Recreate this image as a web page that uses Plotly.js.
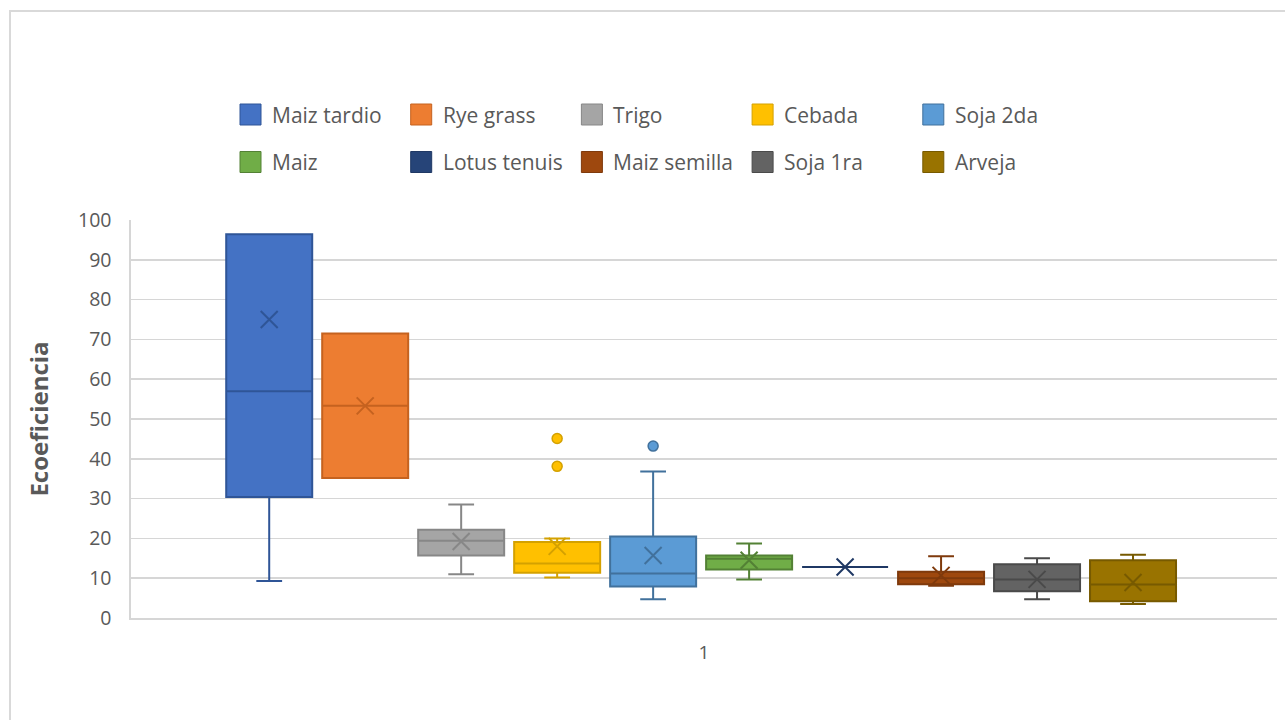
<!DOCTYPE html>
<html>
<head>
<meta charset="utf-8">
<script src="https://cdn.plot.ly/plotly-3.0.1.min.js"></script>
<style>
  html, body { margin: 0; padding: 0; background: #ffffff; overflow: hidden; }
  #chart { position: absolute; left: 0; top: 0; width: 1285px; height: 720px; }
  #frame { position: absolute; left: 9px; top: 10px; width: 1300px; height: 740px;
           border: 2px solid #d9d9d9; pointer-events: none; }
</style>
</head>
<body>
<div id="chart"></div>
<div id="frame"></div>
<script>
// Crops and their ecoefficiency box statistics
const crops = ['Maiz tardio', 'Rye grass', 'Trigo', 'Cebada', 'Soja 2da',
               'Maiz', 'Lotus tenuis', 'Maiz semilla', 'Soja 1ra', 'Arveja'];
const lowerWhisker = [9.3, 35.2, 11.0, 10.2, 4.7, 9.7, 12.8, 8.1, 4.7, 3.5];
const q1Values     = [30.4, 35.2, 15.7, 11.4, 7.9, 12.2, 12.8, 8.5, 6.7, 4.2];
const medianValues = [57.0, 53.3, 19.4, 13.7, 11.2, 14.9, 12.8, 10.0, 9.7, 8.4];
const q3Values     = [96.4, 71.5, 22.2, 19.1, 20.5, 15.7, 12.8, 11.6, 13.5, 14.5];
const upperWhisker = [96.4, 71.5, 28.5, 20.0, 36.8, 18.7, 12.8, 15.5, 15.0, 15.9];
const meanValues   = [75.0, 53.3, 19.2, 18.0, 15.7, 14.5, 12.8, 10.7, 9.7, 8.9];
const outlierValues = [[], [], [], [45.1, 38.1], [43.2], [], [], [], [], []];
const categoryLabel = '1';

// Office-style palette: fill and darker outline per crop
const fillColors = ['#4472C4', '#ED7D31', '#A5A5A5', '#FFC000', '#5B9BD5',
                    '#70AD47', '#264478', '#9E480E', '#636363', '#997300'];
const lineColors = ['#2F5597', '#C5621F', '#878787', '#D4A100', '#41719C',
                    '#538135', '#1F3864', '#7F3A0C', '#4A4A4A', '#775A00'];

const textColor = '#595959';
const gridColor = '#d6d6d6';
const fontFamily = '"Open Sans", "Noto Sans", sans-serif';

const W = 1285, H = 720;
const margin = { l: 131, r: 8, t: 220, b: 102 };
const plotW = W - margin.l - margin.r;
const plotH = H - margin.t - margin.b;

const traces = [];
crops.forEach((name, i) => {
  traces.push({
    type: 'box',
    name: name,
    x: [i],
    q1: [q1Values[i]],
    median: [medianValues[i]],
    q3: [q3Values[i]],
    lowerfence: [lowerWhisker[i]],
    upperfence: [upperWhisker[i]],
    width: 0.896,
    whiskerwidth: 0.3,
    boxpoints: false,
    fillcolor: fillColors[i],
    line: { color: lineColors[i], width: 2 },
    showlegend: false,
    hoverinfo: 'y'
  });
  // mean marker (×)
  traces.push({
    type: 'scatter', mode: 'markers', name: name,
    x: [i], y: [meanValues[i]],
    marker: { symbol: 'x-thin-open', size: 17, color: lineColors[i],
              line: { color: lineColors[i], width: 2 } },
    showlegend: false, hoverinfo: 'y'
  });
  // outliers
  if (outlierValues[i].length) {
    traces.push({
      type: 'scatter', mode: 'markers', name: name,
      x: outlierValues[i].map(() => i), y: outlierValues[i],
      marker: { symbol: 'circle', size: 10, color: fillColors[i],
                line: { color: lineColors[i], width: 1.5 } },
      showlegend: false, hoverinfo: 'y'
    });
  }
});

// Legend: 2 rows x 5 columns of square swatches with labels
const shapes = [];
const annotations = [];
const toPaperX = px => (px - margin.l) / plotW;
const toPaperY = py => (H - margin.b - py) / plotH;
const legendLeft = 240, legendTop = 114.5, colStep = 170.7, rowStep = 47.5, swatch = 21;
crops.forEach((name, i) => {
  const col = i % 5, row = Math.floor(i / 5);
  const left = legendLeft + col * colStep;
  const cy = legendTop + row * rowStep;
  shapes.push({
    type: 'rect', xref: 'paper', yref: 'paper',
    xsizemode: 'pixel', ysizemode: 'pixel',
    xanchor: toPaperX(left), yanchor: toPaperY(cy),
    x0: 0, x1: swatch, y0: -swatch / 2, y1: swatch / 2,
    fillcolor: fillColors[i], line: { color: lineColors[i], width: 1 }
  });
  annotations.push({
    xref: 'paper', yref: 'paper', x: toPaperX(left + 30), y: toPaperY(cy),
    xanchor: 'left', yanchor: 'middle', showarrow: false, text: name,
    font: { family: fontFamily, size: 21, color: textColor }
  });
});

const xMin = -1.44, xMax = 10.5;
const layout = {
  width: W, height: H,
  margin: margin,
  paper_bgcolor: '#ffffff', plot_bgcolor: '#ffffff',
  showlegend: false,
  boxmode: 'overlay',
  font: { family: fontFamily, color: textColor },
  xaxis: {
    type: 'linear', range: [xMin, xMax],
    tickvals: [(xMin + xMax) / 2], ticktext: [categoryLabel],
    showgrid: false, zeroline: false,
    showline: true, linecolor: gridColor, linewidth: 1.6,
    ticks: '', ticklabelstandoff: 17,
    tickfont: { family: fontFamily, size: 19, color: textColor }
  },
  yaxis: {
    range: [0, 100], dtick: 10, tick0: 0,
    showgrid: true, gridcolor: gridColor, gridwidth: 1.6,
    zeroline: false,
    showline: true, linecolor: gridColor, linewidth: 1.6,
    ticks: '', ticklabelstandoff: 14,
    tickfont: { family: fontFamily, size: 19.5, color: textColor },
    title: { text: 'Ecoeficiencia', standoff: 22,
             font: { family: fontFamily, size: 24, color: textColor, weight: 'bold' } }
  },
  shapes: shapes,
  annotations: annotations
};

Plotly.newPlot('chart', traces, layout, { displayModeBar: false, staticPlot: true });
</script>
</body>
</html>
